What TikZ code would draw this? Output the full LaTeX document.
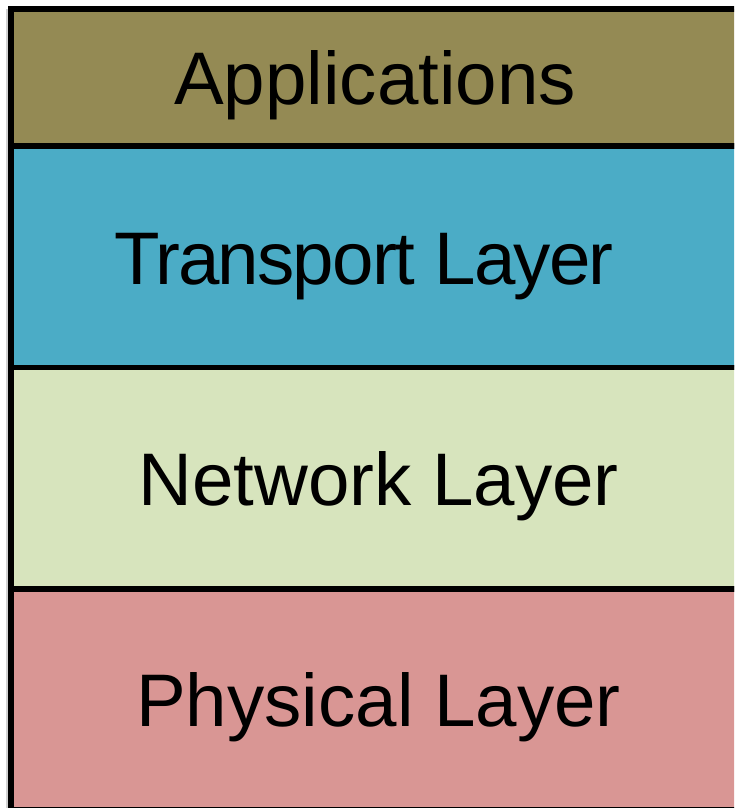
\documentclass[tikz,border=0pt]{standalone}
\usepackage{fontspec}
\setmainfont{Liberation Sans}
\definecolor{appcol}{HTML}{948A54}
\definecolor{transcol}{HTML}{4BACC6}
\definecolor{netcol}{HTML}{D7E4BD}
\definecolor{physcol}{HTML}{D99694}
\tikzset{
  layerbox/.style={draw=black, line width=5.6pt},
  layerlabel/.style={anchor=base, inner sep=0pt, font=\fontsize{74.5}{80}\selectfont, text=black}
}
\begin{document}
\begin{tikzpicture}[x=1pt, y=-1pt]
  \useasboundingbox (0,0) rectangle (734,808);
  \clip (0,0) rectangle (734,808);
  % faint shadow along the left edge
  \fill[black!18] (6,9) rectangle (8.5,808);
  % the four stacked layers
  \filldraw[layerbox, fill=appcol]    (10.7,9)     rectangle (760,145.7);
  \filldraw[layerbox, fill=transcol]  (10.7,145.7) rectangle (760,367.3);
  \filldraw[layerbox, fill=netcol]    (10.7,367.3) rectangle (760,589);
  \filldraw[layerbox, fill=physcol]   (10.7,589)   rectangle (760,809.5);
  % labels
  \node[layerlabel] (app)   at (375,104) {Applications};
  \node[layerlabel] (trans) at (364,284) {\addfontfeature{LetterSpace=-2.5}Transport Layer};
  \node[layerlabel] (net)   at (378.5,505) {Network Layer};
  \node[layerlabel] (phys)  at (378.5,726) {Physical Layer};
\end{tikzpicture}
\end{document}
